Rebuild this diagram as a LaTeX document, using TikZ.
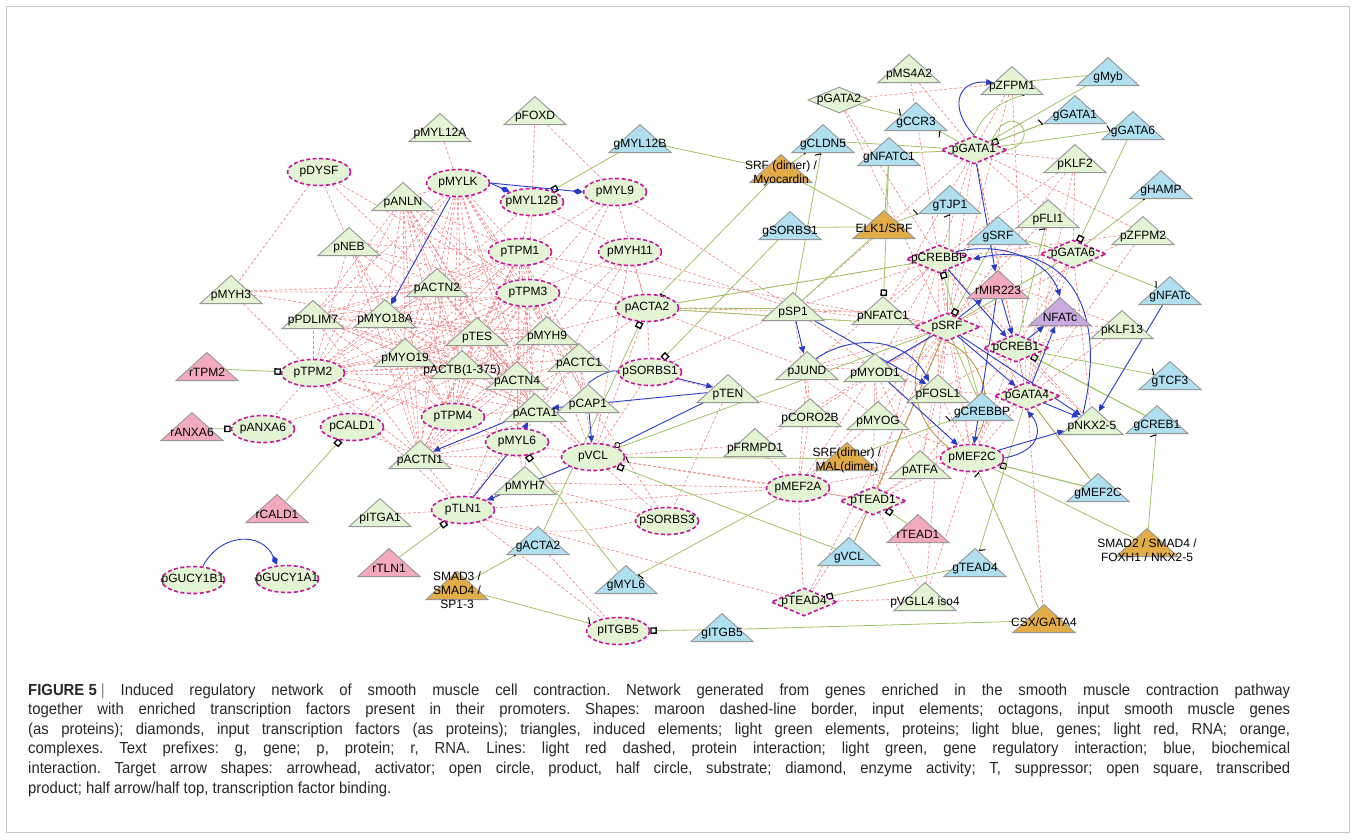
\documentclass[tikz,border=0pt]{standalone}
\usepackage{fontspec}
\setmainfont{Liberation Sans}
\newfontfamily\capfont[FakeStretch=0.93]{Liberation Sans}
\usetikzlibrary{shapes.geometric,arrows.meta}
\pgfdeclarelayer{back}\pgfdeclarelayer{edges}
\pgfsetlayers{back,edges,main}
\definecolor{ngreen}{RGB}{226,244,212}
\definecolor{nblue}{RGB}{176,224,240}
\definecolor{npink}{RGB}{244,170,190}
\definecolor{norange}{RGB}{226,172,72}
\definecolor{npurple}{RGB}{200,170,225}
\definecolor{tgray}{RGB}{150,150,150}
\definecolor{inmag}{RGB}{200,20,160}
\definecolor{ered}{RGB}{240,130,130}
\definecolor{egreen}{RGB}{160,195,100}
\definecolor{eblue}{RGB}{40,60,200}
\definecolor{ebrown}{RGB}{180,145,60}
\definecolor{captext}{RGB}{40,40,40}
\tikzset{
 lab/.style={font=\fontsize{12}{14}\selectfont, inner sep=0pt, text=black, align=center},
 oct/.style={ellipse, draw=inmag, dash pattern=on 4pt off 2.5pt, line width=1.6pt, fill=ngreen, minimum width=63pt, minimum height=27pt, inner sep=0pt},
 dia/.style={diamond, draw=inmag, dash pattern=on 4pt off 2.5pt, line width=1.6pt, fill=ngreen, minimum width=66pt, minimum height=28pt, inner sep=0pt},
 tri/.style={isosceles triangle, shape border rotate=90, isosceles triangle stretches=true, minimum width=62pt, minimum height=28pt, inner sep=0pt, draw=tgray, line width=0.9pt, anchor=south},
 ePPI/.style={draw=ered, line width=0.6pt, dash pattern=on 3pt off 2pt},
 eGreen/.style={draw=egreen, line width=0.8pt},
 eBlue/.style={draw=eblue, line width=0.9pt},
 eBrown/.style={draw=ebrown, line width=0.8pt},
 tSq/.style={-{Square[length=6.5pt,width=6.5pt,color=black,fill=white,line width=1.3pt]}},
 tTick/.style={-{Straight Barb[left,length=2.5pt,width=11pt,color=black,line width=1pt]}},
 tArr/.style={-{Triangle[length=7pt,width=6pt]}},
 tDia/.style={-{Diamond[length=10pt,width=6pt]}},
 tCirc/.style={-{Circle[open,length=6pt,color=black,line width=0.8pt]}},
 capline/.style={font=\capfont\fontsize{16}{19.6}\selectfont\frenchspacing, inner sep=0pt, anchor=base west, text=captext}
}
\newcommand\TriN[5]{\node[tri,fill=#4] (#1) at (#2,#3) {};\node[lab] at ([yshift=8.5pt]#1.south) {#5};}
\newcommand\OctN[4]{\node[oct,label={[lab]center:#4}] (#1) at (#2,#3) {};}
\newcommand\DiaN[4]{\node[dia,label={[lab]center:#4}] (#1) at (#2,#3) {};}
\begin{document}
\begin{tikzpicture}[x=1pt,y=-1pt]
\useasboundingbox (0,0) rectangle (1356,839);
\begin{pgfonlayer}{back}
\fill[white] (0,0) rectangle (1356,839);
\draw[gray!45,line width=0.8pt] (6.5,6.5) rectangle (1349.5,832.5);
\end{pgfonlayer}
% ---------- left nodes
\TriN{pMYL12A}{440}{142}{ngreen}{pMYL12A}
\TriN{pFOXD}{535}{125}{ngreen}{pFOXD}
\TriN{gMYL12B}{640}{153}{nblue}{gMYL12B}
\TriN{pANLN}{403}{211}{ngreen}{pANLN}
\TriN{pNEB}{349}{256}{ngreen}{pNEB}
\TriN{pMYH3}{231}{304}{ngreen}{pMYH3}
\TriN{pACTN2}{437}{297}{ngreen}{pACTN2}
\TriN{pPDLIM7}{313}{329}{ngreen}{pPDLIM7}
\TriN{pMYO18A}{385}{328}{ngreen}{pMYO18A}
\TriN{pTES}{477}{346}{ngreen}{pTES}
\TriN{pMYH9}{547}{345}{ngreen}{pMYH9}
\TriN{pMYO19}{405}{367}{ngreen}{pMYO19}
\TriN{pACTB}{462}{379}{ngreen}{pACTB(1-375)}
\TriN{pACTC1}{579}{372}{ngreen}{pACTC1}
\TriN{pACTN4}{517}{390}{ngreen}{pACTN4}
\TriN{pCAP1}{588}{413}{ngreen}{pCAP1}
\TriN{pACTA1}{535}{422}{ngreen}{pACTA1}
\TriN{pTEN}{728}{403}{ngreen}{pTEN}
\TriN{pACTN1}{420}{469}{ngreen}{pACTN1}
\TriN{pMYH7}{525}{495}{ngreen}{pMYH7}
\TriN{rTPM2}{207}{381}{npink}{rTPM2}
\TriN{rANXA6}{192}{441}{npink}{rANXA6}
\TriN{rCALD1}{277}{523}{npink}{rCALD1}
\TriN{pITGA1}{380}{527}{ngreen}{pITGA1}
\TriN{rTLN1}{389}{577}{npink}{rTLN1}
\node[tri,fill=norange] (cSMADthree) at (457,600) {};
\node[lab] at (457,590) {SMAD3 /\\SMAD4 /\\SP1-3};
\TriN{gACTA2}{538}{555}{nblue}{gACTA2}
\TriN{gMYL6}{626}{594}{nblue}{gMYL6}
\TriN{gITGB5}{722}{642}{nblue}{gITGB5}
\TriN{pFRMPD1}{755}{457}{ngreen}{pFRMPD1}
\OctN{pDYSF}{319}{172}{pDYSF}
\OctN{pMYLK}{458}{183}{pMYLK}
\OctN{pMYL12B}{532}{202}{pMYL12B}
\OctN{pMYL9}{615}{192}{pMYL9}
\OctN{pTPM1}{520}{252}{pTPM1}
\OctN{pMYH11}{630}{252}{pMYH11}
\OctN{pTPM3}{528}{293}{pTPM3}
\OctN{pACTA2}{647}{308}{pACTA2}
\OctN{pTPM2}{313}{373}{pTPM2}
\OctN{pSORBS1}{650}{372}{pSORBS1}
\OctN{pTPM4}{453}{417}{pTPM4}
\OctN{pANXA6}{263}{429}{pANXA6}
\OctN{pCALD1}{352}{427}{pCALD1}
\OctN{pMYL6}{517}{442}{pMYL6}
\OctN{pVCL}{593}{457}{pVCL}
\OctN{pTLN1}{463}{510}{pTLN1}
\OctN{pSORBS3}{667}{521}{pSORBS3}
\OctN{pGUCYB}{193}{580}{pGUCY1B1}
\OctN{pGUCYA}{287}{579}{pGUCY1A1}
\OctN{pITGB5}{618}{631}{pITGB5}
% ---------- right nodes
\TriN{pMS4A2}{909}{83}{ngreen}{pMS4A2}
\TriN{gCCR3}{916}{131}{nblue}{gCCR3}
\TriN{gCLDN5}{823}{153}{nblue}{gCLDN5}
\TriN{gNFATC1}{889}{166}{nblue}{gNFATC1}
\node[tri,fill=norange] (cSRFMyo) at (781,183) {};
\node[lab] at (781,173) {SRF (dimer) /\\Myocardin};
\TriN{pZFPM1}{1012}{95}{ngreen}{pZFPM1}
\TriN{gMyb}{1108}{86}{nblue}{gMyb}
\TriN{gGATA1}{1075}{124}{nblue}{gGATA1}
\TriN{gGATA6}{1133}{140}{nblue}{gGATA6}
\TriN{pKLF2}{1075}{173}{ngreen}{pKLF2}
\TriN{gHAMP}{1161}{199}{nblue}{gHAMP}
\TriN{gTJP1}{950}{214}{nblue}{gTJP1}
\TriN{gSORBS1}{790}{240}{nblue}{gSORBS1}
\node[tri,fill=norange] (cELK) at (884,239) {};
\node[lab] at (884,228) {ELK1/SRF};
\TriN{gSRF}{998}{245}{nblue}{gSRF}
\TriN{pFLI1}{1048}{228}{ngreen}{pFLI1}
\TriN{pZFPM2}{1143}{245}{ngreen}{pZFPM2}
\TriN{rMIR223}{998}{299}{npink}{rMIR223}
\TriN{gNFATc}{1170}{305}{nblue}{gNFATc}
\TriN{pSP1}{793}{321}{ngreen}{pSP1}
\TriN{pNFATC1}{883}{325}{ngreen}{pNFATC1}
\TriN{NFATc}{1060}{326}{npurple}{NFATc}
\TriN{pKLF13}{1122}{339}{ngreen}{pKLF13}
\TriN{pJUND}{807}{380}{ngreen}{pJUND}
\TriN{pMYOD1}{875}{382}{ngreen}{pMYOD1}
\TriN{gTCF3}{1170}{390}{nblue}{gTCF3}
\TriN{pFOSL1}{938}{403}{ngreen}{pFOSL1}
\TriN{gCREBBP}{982}{421}{nblue}{gCREBBP}
\TriN{pCORO2B}{810}{427}{ngreen}{pCORO2B}
\TriN{pMYOG}{878}{430}{ngreen}{pMYOG}
\TriN{pNKX}{1092}{435}{ngreen}{pNKX2-5}
\TriN{gCREB1}{1157}{434}{nblue}{gCREB1}
\node[tri,fill=norange] (cSRFMAL) at (847,471) {};
\node[lab] at (847,460) {SRF(dimer) /\\MAL(dimer)};
\TriN{pATFA}{920}{479}{ngreen}{pATFA}
\TriN{gMEF2C}{1098}{502}{nblue}{gMEF2C}
\TriN{rTEAD1}{918}{543}{npink}{rTEAD1}
\node[tri,fill=norange] (cSMADtwo) at (1147,557) {};
\node[lab] at (1147,550) {SMAD2 / SMAD4 /\\FOXH1 / NKX2-5};
\TriN{gVCL}{849}{566}{nblue}{gVCL}
\TriN{gTEAD4}{975}{577}{nblue}{gTEAD4}
\TriN{pVGLL}{925}{611}{ngreen}{pVGLL4 iso4}
\node[tri,fill=norange] (cCSX) at (1044,633) {};
\node[lab] at (1044,622) {CSX/GATA4};
\OctN{pMEF2A}{798}{488}{pMEF2A}
\OctN{pMEF2C}{972}{458}{pMEF2C}
\node[diamond, draw=tgray, line width=0.9pt, fill=ngreen, minimum width=62pt, minimum height=26pt, inner sep=0pt, label={[lab]center:pGATA2}] (pGATA2) at (839,100) {};
\DiaN{pGATA1}{974}{150}{pGATA1}
\DiaN{pGATA6}{1073}{254}{pGATA6}
\DiaN{pCREBBP}{939}{259}{pCREBBP}
\DiaN{pSRF}{947}{327}{pSRF}
\DiaN{pCREB1}{1016}{348}{pCREB1}
\DiaN{pGATA4}{1027}{396}{pGATA4}
\DiaN{pTEAD1}{873}{501}{pTEAD1}
\DiaN{pTEAD4}{804}{602}{pTEAD4}
% ---------- edges
\begin{pgfonlayer}{edges}
\def\corelist{pMYLK,pTPM1,pTPM2,pTPM3,pTPM4,pANLN,pPDLIM7,pMYO18A,pMYO19,pACTN2,pACTN1,pACTN4,pTES,pMYH9,pACTB,pACTA1}
\foreach \a [count=\i] in \corelist {
  \foreach \b [count=\j] in \corelist {
    \ifnum\j>\i \draw[ePPI] (\a) -- (\b); \fi
  }
}
\foreach \a/\b in {pDYSF/pMYH3, pDYSF/pNEB, pDYSF/pACTN2, pDYSF/pTPM3, pMYH3/pTPM2, pMYH3/pACTN2, pMYH3/pMYO18A, pMYH3/pTPM3,
 pNEB/pTPM1, pNEB/pACTN2, pNEB/pTPM2, pNEB/pACTN1, pNEB/pMYO18A, pNEB/pTPM3, pNEB/pACTN4, pNEB/pTPM4,
 pMYL12A/pMYLK, pFOXD/pMYL12B, pFOXD/pMYL9, pMYL12B/pTPM1, pMYL12B/pMYH11, pMYL12B/pTPM3, pMYL12B/pACTN2,
 pMYLK/pACTC1, pMYL9/pTPM1, pMYL9/pTPM3, pMYL9/pACTA2, pMYL9/pMYH9, pMYL9/pSP1,
 pMYH11/pTPM3, pMYH11/pACTA1, pMYH11/pVCL, pMYH11/pACTA2, pMYH11/pSP1, pMYH11/pMYH9,
 pTPM1/pACTA2, pTPM1/pACTC1, pTPM1/pCAP1, pTPM1/pMYL6, pTPM1/pSRF,
 pTPM3/pACTA2, pTPM3/pACTC1, pTPM3/pCAP1, pTPM3/pMYL6, pTPM3/pMYH7, pTPM3/pVCL,
 pTPM2/pANXA6, pTPM2/pCALD1, pTPM2/pACTC1, pTPM2/pMYL6, pTPM2/pTLN1, pANXA6/pACTB,
 pCALD1/pTPM3, pCALD1/pACTN1, pCALD1/pTPM1, pCALD1/pMYH9,
 pACTN1/pTLN1, pACTN1/pMYL6, pACTN1/pVCL, pACTN1/pACTC1, pACTN1/pCAP1, pACTN1/pMYH7,
 pACTN4/pVCL, pACTN4/pTLN1, pACTN4/pCAP1, pACTN4/pACTC1, pACTN4/pMYL6,
 pACTA1/pVCL, pACTA1/pTLN1, pACTA1/pACTC1, pACTC1/pVCL, pACTC1/pACTA2, pACTC1/pCAP1, pACTC1/pMYL6,
 pMYH9/pACTC1, pMYH9/pCAP1, pMYH9/pACTA2, pTES/pVCL, pTES/pACTC1,
 pMYL6/pTLN1, pMYL6/pVCL, pMYL6/pMYH7,
 pVCL/pTLN1, pVCL/pMEF2A, pVCL/pTEAD1, pVCL/pSORBS3, pVCL/pFRMPD1, pVCL/pSORBS1,
 pTLN1/pMEF2A, pTLN1/pTEAD4, pTLN1/pITGB5, pTLN1/pITGA1, pTLN1/pMYH7,
 pMYH7/pSORBS3, pMYH7/pMEF2A, gACTA2/pITGB5, pCAP1/pSORBS3,
 pSORBS1/pSP1, pSORBS1/pCORO2B, pACTA2/pSP1, pACTA2/pSRF, pACTA2/pCREBBP, pACTA2/pJUND, pACTA2/pNFATC1, pACTA2/pVCL, pACTA2/pSORBS1,
 pFRMPD1/pMEF2A, pFRMPD1/pSRF, pTEN/pSORBS3}
 \draw[ePPI] (\a) -- (\b);
\draw[ePPI] (pTLN1.south east) .. controls (560,545) and (640,520) .. (pSORBS3.west);
\foreach \a/\b in {pGATA2/pZFPM1, pGATA2/pCREBBP, pGATA2/pSRF, pMS4A2/pGATA1, pMS4A2/pCREBBP, pZFPM1/pGATA1, pZFPM1/pGATA4, pZFPM1/pSRF,
 pGATA1/pSP1, pGATA1/pSRF, pGATA1/pCREBBP, pGATA1/pGATA4, pGATA1/pZFPM2, pGATA1/pCREB1, pGATA1/pFLI1, pGATA1/pNFATC1, pGATA1/pKLF2,
 pKLF2/pCREBBP, pKLF2/pGATA6, pKLF2/pSRF, pKLF2/pGATA4,
 pGATA6/pCREBBP, pGATA6/pSRF, pGATA6/pGATA4, pGATA6/pNKX, pGATA6/pCREB1, pGATA6/pMEF2C,
 pFLI1/pSRF, pFLI1/pCREBBP, pFLI1/pGATA4, pZFPM2/pGATA4, pZFPM2/pSRF, pZFPM2/pCREBBP,
 pKLF13/pSRF, pKLF13/pCREB1, pKLF13/pGATA4, pKLF13/pCREBBP,
 pCREBBP/pSRF, pCREBBP/pCREB1, pCREBBP/pSP1, pCREBBP/pGATA4, pCREBBP/pMEF2C, pCREBBP/pFOSL1, pCREBBP/pJUND, pCREBBP/pMYOD1, pCREBBP/pNFATC1, pCREBBP/pTEAD1, pCREBBP/pNKX,
 pSRF/pSP1, pSRF/pNFATC1, pSRF/pJUND, pSRF/pFOSL1, pSRF/pMEF2C, pSRF/pMYOG, pSRF/pCORO2B, pSRF/pATFA, pSRF/pCREB1, pSRF/pTEAD1, pSRF/pMEF2A, pSRF/pVGLL, pSRF/pTEAD4,
 pGATA4/pMEF2C, pGATA4/pCREB1, pGATA4/pFOSL1, pGATA4/pTEAD1, pGATA4/cCSX,
 pMEF2C/pMEF2A, pMEF2C/pTEAD1, pMEF2C/pATFA, pMEF2C/pMYOD1, pMEF2C/pMYOG, pMEF2C/pVGLL, pMEF2C/cCSX,
 pMEF2A/pTEAD1, pMEF2A/pMYOD1, pMEF2A/pMYOG, pMEF2A/pTEAD4, pMEF2A/pJUND, pMEF2A/pCORO2B,
 pTEAD1/pTEAD4, pTEAD1/pVGLL, pTEAD4/pVGLL, pTEAD1/pATFA, pTEAD1/pMYOD1,
 pSP1/pMYOD1, pSP1/pCORO2B, pSP1/pNFATC1, pJUND/pCORO2B, pJUND/pMYOG, pJUND/pMYOD1,
 pMYOD1/pMYOG, pMYOD1/pFOSL1, pMYOD1/pATFA, pCREB1/pFOSL1, pCREB1/pJUND, pCREB1/pNKX, pCREB1/pMEF2C, pCREB1/pATFA,
 pFOSL1/pATFA, pFOSL1/pMEF2C}
 \draw[ePPI] (\a) -- (\b);
% green: transcribed product
\foreach \a/\b in {rTPM2/pTPM2, rANXA6/pANXA6, rCALD1/pCALD1, rTLN1/pTLN1, gMYL12B/pMYL12B, gACTA2/pACTA2, gSORBS1/pSORBS1, gMYL6/pMYL6, gVCL/pVCL, gITGB5/pITGB5, gNFATC1/pNFATC1, gCREBBP/pCREBBP, gSRF/pSRF, gCREB1/pCREB1, gGATA6/pGATA6, gGATA1/pGATA1, gMEF2C/pMEF2C, rTEAD1/pTEAD1, gTEAD4/pTEAD4}
 \draw[eGreen,tSq] (\a) -- (\b);
% green: TF binding
\foreach \a/\b in {cSRFMyo/gMYL12B, cSRFMyo/gCLDN5, cSRFMyo/pACTA2, cELK/gSORBS1, cELK/gTJP1, pSP1/gCLDN5, pGATA2/gCCR3, pGATA1/gCCR3, pGATA1/gCLDN5, pGATA1/gGATA1, pGATA1/gGATA6, pGATA6/gHAMP, pGATA6/gNFATc, pCREB1/gTCF3, cSMADtwo/gCREB1, cSMADthree/gACTA2, cSMADthree/pITGB5, pMEF2A/gMYL6, cSRFMAL/pVCL, cSRFMAL/gCREBBP, cCSX/pMEF2C, pGATA4/gTEAD4, pCREB1/pFLI1, pSRF/gTJP1}
 \draw[eGreen,tTick] (\a) -- (\b);
\foreach \a/\b in {cELK/gNFATC1, cSRFMyo/cELK, pZFPM1/gMyb, pGATA1/gMyb, pGATA1/gNFATC1, cSMADtwo/pMEF2C, pMEF2C/gMEF2C, cCSX/gITGB5, pSRF/pACTA2, pSRF/pVCL, pSP1/pACTA2, cELK/pSP1, pGATA6/pSRF, pCREB1/gCREB1, gSRF/pGATA6, pSRF/gCREBBP, pCREBBP/pACTA2}
 \draw[eGreen] (\a) -- (\b);
\draw[eGreen] (pGATA1.north east) .. controls (1010,95) and (1045,140) .. (pGATA1.east);
\draw[eGreen,tTick] (pGATA1.north) .. controls (985,110) and (1005,100) .. (pZFPM1.south east);
% brown
\draw[eBrown] (pSRF) -- (gVCL);
\draw[eBrown] (pGATA4) -- (gMEF2C);
\draw[eBrown] (pSRF.south west) .. controls (905,375) and (912,420) .. (pMEF2C.north west);
\draw[eBrown] (pSRF.south) .. controls (990,360) and (995,420) .. (pMEF2C.north);
% blue
\draw[eBlue,tDia] (pMYLK) -- (pMYO18A);
\draw[eBlue,tDia] (pMYLK.east) -- (pMYL12B);
\draw[eBlue,tDia] (pMYLK.east) -- (pMYL9.west);
\draw[eBlue,tDia] ([xshift=10pt]pGUCYB.north) .. controls (222,532) and (262,532) .. ([xshift=-10pt]pGUCYA.north);
\draw[eBlue,tArr] (pTEN) -- (pACTA1);
\draw[eBlue,tArr] (pSORBS1) -- (pTEN);
\draw[eBlue,tArr] (pCAP1) -- (pVCL);
\draw[eBlue] (pCAP1.north) .. controls (598,375) and (615,368) .. (pSORBS1.west);
\draw[eBlue,tCirc] (pTEN) -- (pVCL);
\draw[eBlue,tArr] (pACTA1) -- (pACTN1);
\draw[eBlue] (pMYL6) -- (pTLN1);
\draw[eBlue,tArr] (pVCL) -- (pTLN1);
\draw[eBlue,tArr] (pMYL6) -- (pACTA1);
\draw[eBlue,tArr] (pGATA1.north) .. controls (950,110) and (955,80) .. (pZFPM1.west);
\draw[eBlue,tArr] (pGATA1) -- (rMIR223);
\draw[eBlue,tArr] (pCREBBP) -- (pCREB1);
\draw[eBlue,tArr] (pSRF) -- (rMIR223);
\draw[eBlue,tArr] (pCREBBP.north east) .. controls (1010,240) and (1050,265) .. (NFATc.north);
\draw[eBlue,tArr] (rMIR223) -- (pCREB1);
\draw[eBlue,tArr] (pCREB1) -- (NFATc);
\draw[eBlue,tArr] (pGATA4) -- (NFATc);
\draw[eBlue,tArr] (pSRF) -- (pGATA4);
\draw[eBlue] (pSRF) -- (pMYOD1);
\draw[eBlue,tArr] (pSP1) -- (pJUND);
\draw[eBlue,tArr] (pSP1) -- (pFOSL1);
\draw[eBlue,tArr] (pJUND.north east) .. controls (850,335) and (905,335) .. (pFOSL1.north west);
\draw[eBlue,tArr] (pMYOD1) -- (pMEF2C);
\draw[eBlue,tArr] (rMIR223) -- (pMEF2C);
\draw[eBlue,tArr] (pGATA4) -- (pNKX);
\draw[eBlue,tArr] (pMEF2C) -- (pNKX);
\draw[eBlue,tArr] (gNFATc) -- (pNKX);
\draw[eBlue,tArr] (pMEF2C.east) .. controls (1045,450) and (1040,425) .. (pGATA4.south);
\draw[eBlue,tArr] (pNKX.north west) .. controls (1110,300) and (1060,240) .. (pCREBBP.east);
\draw[eBlue,tArr] (pSRF) -- (pNKX);
\end{pgfonlayer}
% ---------- caption
\node[capline] (cap1) at (28,695) {\hbox to 1262pt{\mbox{{\bfseries FIGURE 5} {\color{gray}|}} Induced regulatory network of smooth muscle cell contraction. Network generated from genes enriched in the smooth muscle contraction pathway}};
\node[capline] (cap2) at (28,714.6) {\hbox to 1262pt{together with enriched transcription factors present in their promoters. Shapes: maroon dashed-line border, input elements; octagons, input smooth muscle genes}};
\node[capline] (cap3) at (28,734.2) {\hbox to 1262pt{(as proteins); diamonds, input transcription factors (as proteins); triangles, induced elements; light green elements, proteins; light blue, genes; light red, RNA; orange,}};
\node[capline] (cap4) at (28,753.8) {\hbox to 1262pt{complexes. Text prefixes: g, gene; p, protein; r, RNA. Lines: light red dashed, protein interaction; light green, gene regulatory interaction; blue, biochemical}};
\node[capline] (cap5) at (28,773.4) {\hbox to 1262pt{interaction. Target arrow shapes: arrowhead, activator; open circle, product, half circle, substrate; diamond, enzyme activity; T, suppressor; open square, transcribed}};
\node[capline] (cap6) at (28,793) {product; half arrow/half top, transcription factor binding.};
\end{tikzpicture}
\end{document}
